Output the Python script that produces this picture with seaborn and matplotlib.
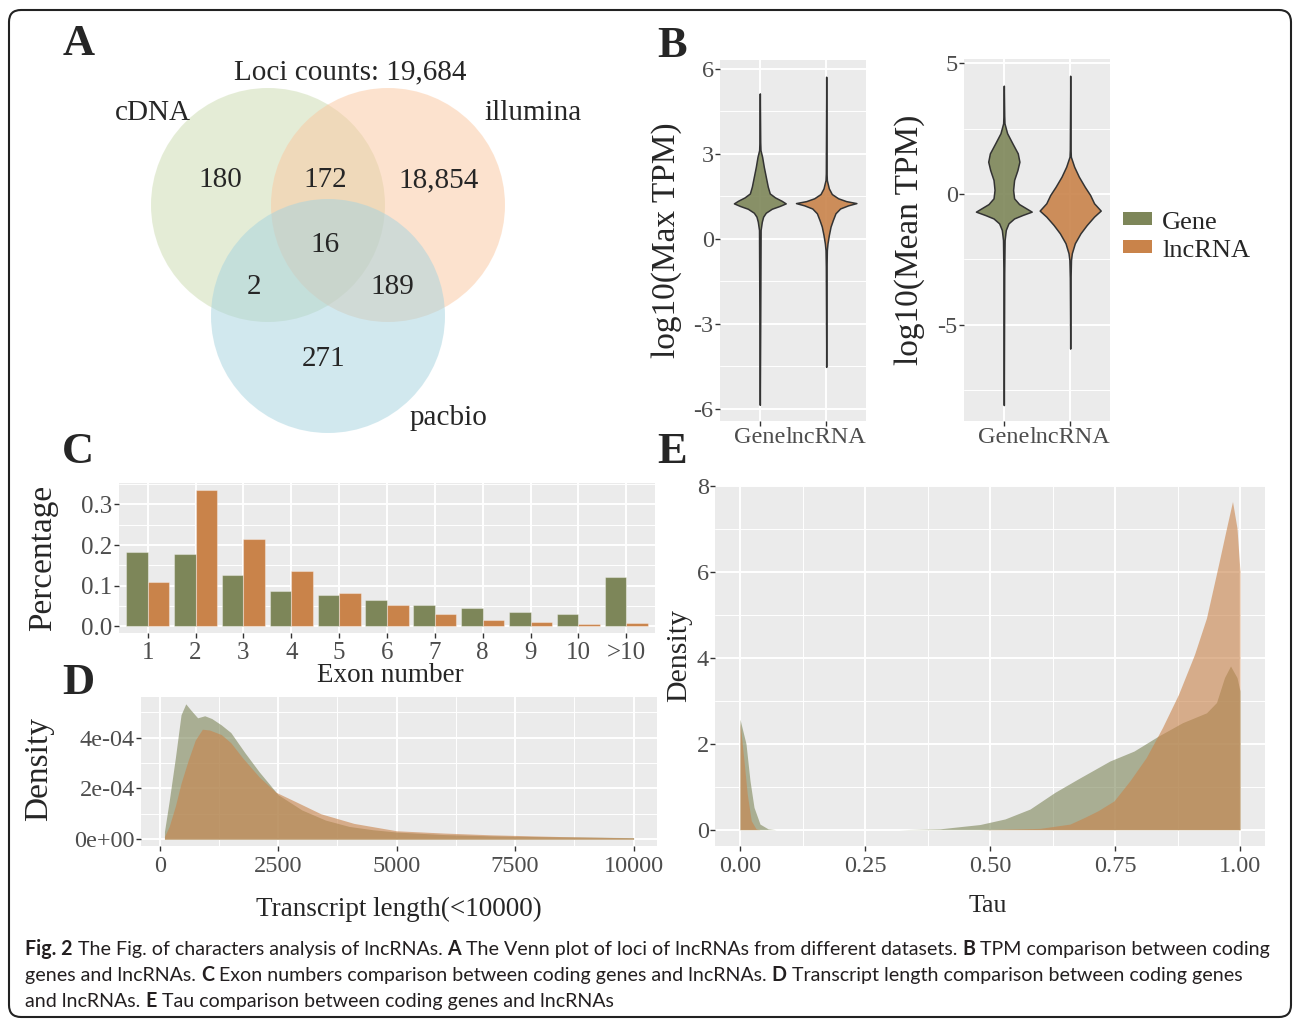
import matplotlib
matplotlib.use("Agg")
import numpy as np
import pandas as pd
import matplotlib.pyplot as plt
import seaborn as sns
from matplotlib.colors import to_rgba
from matplotlib.patches import Circle, Rectangle, FancyBboxPatch

W, H = 1293, 1019

gene_col = "#7d8659"
lnc_col = "#c9834a"
groups = ["Gene", "lncRNA"]

# A: Venn counts
venn_sets = ["cDNA", "illumina", "pacbio"]
venn_counts = [180, 172, 18854, 16, 2, 189, 271]   # c, c&i, i, all, c&p, i&p, p

# B: violin outlines (y value, half width)
max_gene_y = [5.12, 3.4, 3.12, 2.88, 2.53, 2.18, 1.83, 1.59, 1.45, 1.33, 1.24, 1.15, 1.05, 0.91, 0.77, 0.59, 0.30, -3.0, -5.87]
max_gene_w = [0, 0.006, 0.01, 0.035, 0.06, 0.09, 0.12, 0.15, 0.23, 0.33, 0.39, 0.30, 0.18, 0.09, 0.05, 0.03, 0.012, 0.006, 0]
max_lnc_y = [5.71, 2.3, 2.06, 1.77, 1.57, 1.42, 1.32, 1.25, 1.17, 1.06, 0.89, 0.65, 0.42, 0.12, -0.17, -0.41, -1.0, -4.53]
max_lnc_w = [0, 0.006, 0.01, 0.04, 0.085, 0.18, 0.30, 0.455, 0.33, 0.21, 0.14, 0.10, 0.066, 0.04, 0.02, 0.01, 0.006, 0]
mean_gene_y = [4.15, 3.0, 2.71, 2.33, 1.94, 1.56, 1.24, 0.92, 0.54, 0.16, -0.16, -0.38, -0.54, -0.67, -0.80, -0.93, -1.12, -1.37, -1.76, -3.0, -8.07]
mean_gene_w = [0, 0.006, 0.01, 0.05, 0.13, 0.21, 0.235, 0.205, 0.155, 0.14, 0.155, 0.23, 0.335, 0.42, 0.28, 0.155, 0.07, 0.03, 0.012, 0.006, 0]
mean_lnc_y = [4.53, 1.7, 1.43, 1.05, 0.67, 0.28, -0.03, -0.35, -0.63, -0.86, -1.18, -1.50, -1.88, -2.26, -2.52, -3.2, -5.91]
mean_lnc_w = [0, 0.006, 0.01, 0.06, 0.13, 0.22, 0.30, 0.36, 0.46, 0.36, 0.25, 0.155, 0.07, 0.025, 0.012, 0.006, 0]

# C: exon numbers
exon_labels = ["1", "2", "3", "4", "5", "6", "7", "8", "9", "10", ">10"]
exon_gene = [0.183, 0.178, 0.127, 0.087, 0.077, 0.064, 0.053, 0.044, 0.036, 0.031, 0.122]
exon_lnc = [0.108, 0.336, 0.215, 0.135, 0.082, 0.051, 0.031, 0.016, 0.0115, 0.0066, 0.009]

# D: transcript length density (x, density x1e-4)
len_gene_x = [100, 200, 330, 450, 550, 650, 800, 950, 1100, 1300, 1500, 1800, 2100, 2500, 3000, 3500, 4000, 4500, 5000, 6000, 7000, 8000, 9000, 10000]
len_gene_y = [0.3, 1.5, 3.2, 4.9, 5.33, 5.1, 4.78, 4.86, 4.75, 4.5, 4.2, 3.4, 2.65, 1.75, 1.15, 0.75, 0.5, 0.37, 0.28, 0.18, 0.13, 0.1, 0.08, 0.06]
len_lnc_x = [100, 200, 330, 450, 600, 750, 900, 1050, 1300, 1500, 1750, 2100, 2450, 2900, 3400, 4100, 5000, 6000, 7000, 8500, 10000]
len_lnc_y = [0.1, 0.5, 1.3, 2.2, 3.1, 3.9, 4.33, 4.3, 4.12, 3.8, 3.2, 2.45, 1.85, 1.45, 1.0, 0.62, 0.33, 0.24, 0.17, 0.1, 0.05]

# E: tau density
tau_gene_x = [0.0, 0.0, 0.012, 0.02, 0.028, 0.04, 0.056, 0.072, 0.32, 0.40, 0.48, 0.53, 0.58, 0.63, 0.676, 0.74, 0.788, 0.837, 0.885, 0.933, 0.953, 0.969, 0.981, 0.994, 1.0, 1.0]
tau_gene_y = [0, 2.57, 2.0, 1.14, 0.52, 0.13, 0.02, 0, 0, 0.02, 0.12, 0.25, 0.48, 0.87, 1.18, 1.6, 1.83, 2.18, 2.49, 2.72, 2.96, 3.54, 3.81, 3.54, 3.23, 0]
tau_lnc_x = [0.0, 0.0, 0.008, 0.0145, 0.0225, 0.032, 0.04, 0.48, 0.6, 0.66, 0.69, 0.716, 0.748, 0.78, 0.8125, 0.845, 0.877, 0.909, 0.933, 0.957, 0.973, 0.985, 0.994, 1.0, 1.0]
tau_lnc_y = [0, 2.5, 1.6, 0.83, 0.21, 0.02, 0, 0, 0.03, 0.13, 0.29, 0.44, 0.67, 1.14, 1.68, 2.38, 3.15, 4.08, 4.93, 6.17, 7.02, 7.64, 7.02, 6.01, 0]

caption_lines = [
    [("Fig. 2", True), ("The Fig. of characters analysis of lncRNAs.", False), ("A", True),
     ("The Venn plot of loci of lncRNAs from different datasets.", False), ("B", True),
     ("TPM comparison between coding", False)],
    [("genes and lncRNAs.", False), ("C", True),
     ("Exon numbers comparison between coding genes and lncRNAs.", False), ("D", True),
     ("Transcript length comparison between coding genes", False)],
    [("and lncRNAs.", False), ("E", True), ("Tau comparison between coding genes and lncRNAs", False)],
]

sns.set_theme(style="darkgrid")
SERIF = "Liberation Serif"
plt.rcParams["font.family"] = [SERIF, "DejaVu Serif"]
plt.rcParams["axes.unicode_minus"] = False

fig = plt.figure(figsize=(W / 100, H / 100), dpi=100)
fig.patch.set_facecolor("white")

# overlay axis in pixel coordinates for venn, letters, caption
ov = fig.add_axes([0, 0, 1, 1])
ov.set_xlim(0, W)
ov.set_ylim(H, 0)
ov.axis("off")

ov.add_patch(FancyBboxPatch((9, 10), 1282, 1007, boxstyle="round,pad=0,rounding_size=12",
                            fc="none", ec="#222222", lw=1.5))

# Venn
venn_centers = [(268, 205), (388, 205), (328, 316)]
venn_fills = ["#cbdbaf", "#fbc79f", "#a5d3df"]
for (cx, cy), fc in zip(venn_centers, venn_fills):
    ov.add_patch(Circle((cx, cy), 117, fc=fc, ec="none", alpha=0.5))
venn_xy = [(220, 180), (325, 180), (439, 180), (325, 245), (254, 287), (392, 287), (324, 359)]
for (x, y), v in zip(venn_xy, venn_counts):
    ov.text(x, y, f"{v:,}", ha="center", va="center", fontsize=21)
for (x, y), s in zip([(153, 113), (533, 113), (449, 418)], venn_sets):
    ov.text(x, y, s, ha="center", va="center", fontsize=21)
ov.text(350, 72, f"Loci counts: {sum(venn_counts):,}", ha="center", va="center", fontsize=21)

for (x, y), s in zip([(79, 44), (672, 46), (78, 452), (78, 683), (672, 452)], "ABCDE"):
    ov.text(x, y, s, ha="center", va="center", fontsize=32, fontweight="bold")


def px_axes(x0, y0, x1, y1):
    return fig.add_axes([x0 / W, 1 - y1 / H, (x1 - x0) / W, (y1 - y0) / H])


def gg_style(ax):
    for s in ax.spines.values():
        s.set_visible(False)
    ax.set_facecolor("#ebebeb")
    ax.grid(True, which="major", color="white", lw=1.4)
    ax.grid(True, which="minor", color="white", lw=0.7)
    ax.tick_params(which="major", length=3.5, width=1, color="#333333", labelcolor="#4d4d4d",
                   pad=1, labelsize=17.5, bottom=True, left=True, labelfontfamily=SERIF)
    ax.tick_params(which="minor", length=0)
    ax.set_axisbelow(True)


def violin(ax, pos, y, hw, col):
    y = np.asarray(y)
    hw = np.asarray(hw)
    ax.fill_betweenx(y, pos - hw, pos + hw, facecolor=to_rgba(col, 0.9),
                     edgecolor="#333333", lw=1.1, zorder=3)


# B: violins
axB1 = px_axes(720, 60, 866, 421)
violin(axB1, 0, max_gene_y, max_gene_w, gene_col)
violin(axB1, 1, max_lnc_y, max_lnc_w, lnc_col)
axB1.set_xlim(-0.6, 1.6)
axB1.set_ylim(-6.44, 6.3)
axB1.set_yticks([-6, -3, 0, 3, 6])
axB1.set_yticklabels(["-6", "-3", "0", "3", "6"])
axB1.set_yticks([-4.5, -1.5, 1.5, 4.5], minor=True)
axB1.set_xticks([0, 1])
axB1.set_xticklabels(groups)
axB1.set_ylabel("log10(Max TPM)", fontsize=24)
axB1.yaxis.set_label_coords(-0.26, 0.5)
gg_style(axB1)

axB2 = px_axes(964, 59, 1110, 421)
violin(axB2, 0, mean_gene_y, mean_gene_w, gene_col)
violin(axB2, 1, mean_lnc_y, mean_lnc_w, lnc_col)
axB2.set_xlim(-0.6, 1.6)
axB2.set_ylim(-8.68, 5.17)
axB2.set_yticks([-5, 0, 5])
axB2.set_yticklabels(["-5", "0", "5"])
axB2.set_yticks([-7.5, -2.5, 2.5], minor=True)
axB2.set_xticks([0, 1])
axB2.set_xticklabels(groups)
axB2.set_ylabel("log10(Mean TPM)", fontsize=24)
axB2.yaxis.set_label_coords(-0.27, 0.5)
gg_style(axB2)

# legend
for (y, lab, col) in [(212, "Gene", gene_col), (240, "lncRNA", lnc_col)]:
    ov.add_patch(Rectangle((1123, y), 29, 13, fc=col, ec="none"))
    ov.text(1162, y + 17, lab, fontsize=19, va="baseline", ha="left")

# C: exon number bars
dfC = pd.DataFrame({
    "exon": exon_labels * 2,
    "pct": exon_gene + exon_lnc,
    "type": ["Gene"] * len(exon_labels) + ["lncRNA"] * len(exon_labels),
})
axC = px_axes(119, 483, 655, 633)
sns.barplot(data=dfC, x="exon", y="pct", hue="type", order=exon_labels, hue_order=groups,
            palette=[gene_col, lnc_col], width=0.9, saturation=1, legend=False,
            edgecolor=(1, 1, 1, 0.35), linewidth=0.8, ax=axC)
axC.set_xlim(-0.6, 10.6)
axC.set_ylim(-0.0168, 0.353)
axC.set_yticks([0.0, 0.1, 0.2, 0.3])
axC.set_yticklabels(["0.0", "0.1", "0.2", "0.3"])
axC.set_yticks([0.05, 0.15, 0.25, 0.35], minor=True)
gg_style(axC)
axC.xaxis.grid(True, which="major", color="white", lw=1.4)
axC.tick_params(axis="x", labelsize=18, pad=3)
axC.tick_params(axis="y", labelsize=18)
axC.set_xlabel("Exon number", fontsize=19.5)
axC.set_ylabel("Percentage", fontsize=24)
axC.xaxis.set_label_coords(0.506, -0.2)
axC.xaxis.label.set_va("top")
axC.yaxis.set_label_coords(-0.114, 0.5)

# D: transcript length density
axD = px_axes(141, 697, 657, 846)
axD.fill_between(len_gene_x, np.array(len_gene_y) * 1e-4, color=gene_col, alpha=0.6, lw=0)
axD.fill_between(len_lnc_x, np.array(len_lnc_y) * 1e-4, color=lnc_col, alpha=0.6, lw=0)
axD.set_xlim(-395, 10495)
axD.set_ylim(-0.27e-4, 5.6e-4)
axD.set_xticks([0, 2500, 5000, 7500, 10000])
axD.set_xticklabels(["0", "2500", "5000", "7500", "10000"])
axD.set_xticks([1250, 3750, 6250, 8750], minor=True)
axD.set_yticks([0, 2e-4, 4e-4])
axD.set_yticklabels(["0e+00", "2e-04", "4e-04"])
axD.set_yticks([1e-4, 3e-4, 5e-4], minor=True)
gg_style(axD)
axD.tick_params(axis="x", pad=4)
axD.set_xlabel("Transcript length(<10000)", fontsize=19.5)
axD.xaxis.set_label_coords(0.5, -0.34)
axD.xaxis.label.set_va("top")
axD.set_ylabel("Density", fontsize=24)
axD.yaxis.set_label_coords(-0.169, 0.52)

# E: tau density
axE = px_axes(715, 486, 1265, 846)
axE.fill_between(tau_gene_x, tau_gene_y, color=gene_col, alpha=0.6, lw=0)
axE.fill_between(tau_lnc_x, tau_lnc_y, color=lnc_col, alpha=0.6, lw=0)
axE.set_xlim(-0.05, 1.05)
axE.set_ylim(-0.38, 8.0)
axE.set_xticks([0, 0.25, 0.5, 0.75, 1.0])
axE.set_xticklabels(["0.00", "0.25", "0.50", "0.75", "1.00"])
axE.set_xticks([0.125, 0.375, 0.625, 0.875], minor=True)
axE.set_yticks([0, 2, 4, 6, 8])
axE.set_yticklabels(["0", "2", "4", "6", "8"])
axE.set_yticks([1, 3, 5, 7], minor=True)
gg_style(axE)
axE.tick_params(axis="x", pad=4)
axE.set_xlabel("Tau", fontsize=18.5)
axE.xaxis.set_label_coords(0.496, -0.136)
axE.xaxis.label.set_va("top")
axE.set_ylabel("Density", fontsize=21.5)
axE.yaxis.set_label_coords(-0.042, 0.53)

# caption with bold run-ins
renderer = fig.canvas.get_renderer()
cap_font = ["Lato", "DejaVu Sans"]


def text_w(s, fs, bold):
    t = ov.text(0, 0, s, fontsize=fs, family=cap_font, fontweight="bold" if bold else "normal")
    w = t.get_window_extent(renderer).width
    t.remove()
    return w


def line_w(segs, fs):
    sp = text_w("a a", fs, False) - text_w("aa", fs, False)
    return sum(text_w(s, fs, b) for s, b in segs) + sp * (len(segs) - 1)


cap_fs = 12 * 1238 / line_w(caption_lines[0], 12)
space_w = text_w("a a", cap_fs, False) - text_w("aa", cap_fs, False)
for segs, base in zip(caption_lines, [955, 981, 1007]):
    x = 25
    for s, b in segs:
        ov.text(x, base, s, fontsize=cap_fs, family=cap_font, color="#231f20",
                fontweight="bold" if b else "normal", ha="left", va="baseline")
        x += text_w(s, cap_fs, b) + space_w

fig.savefig("out.png", dpi=100)
